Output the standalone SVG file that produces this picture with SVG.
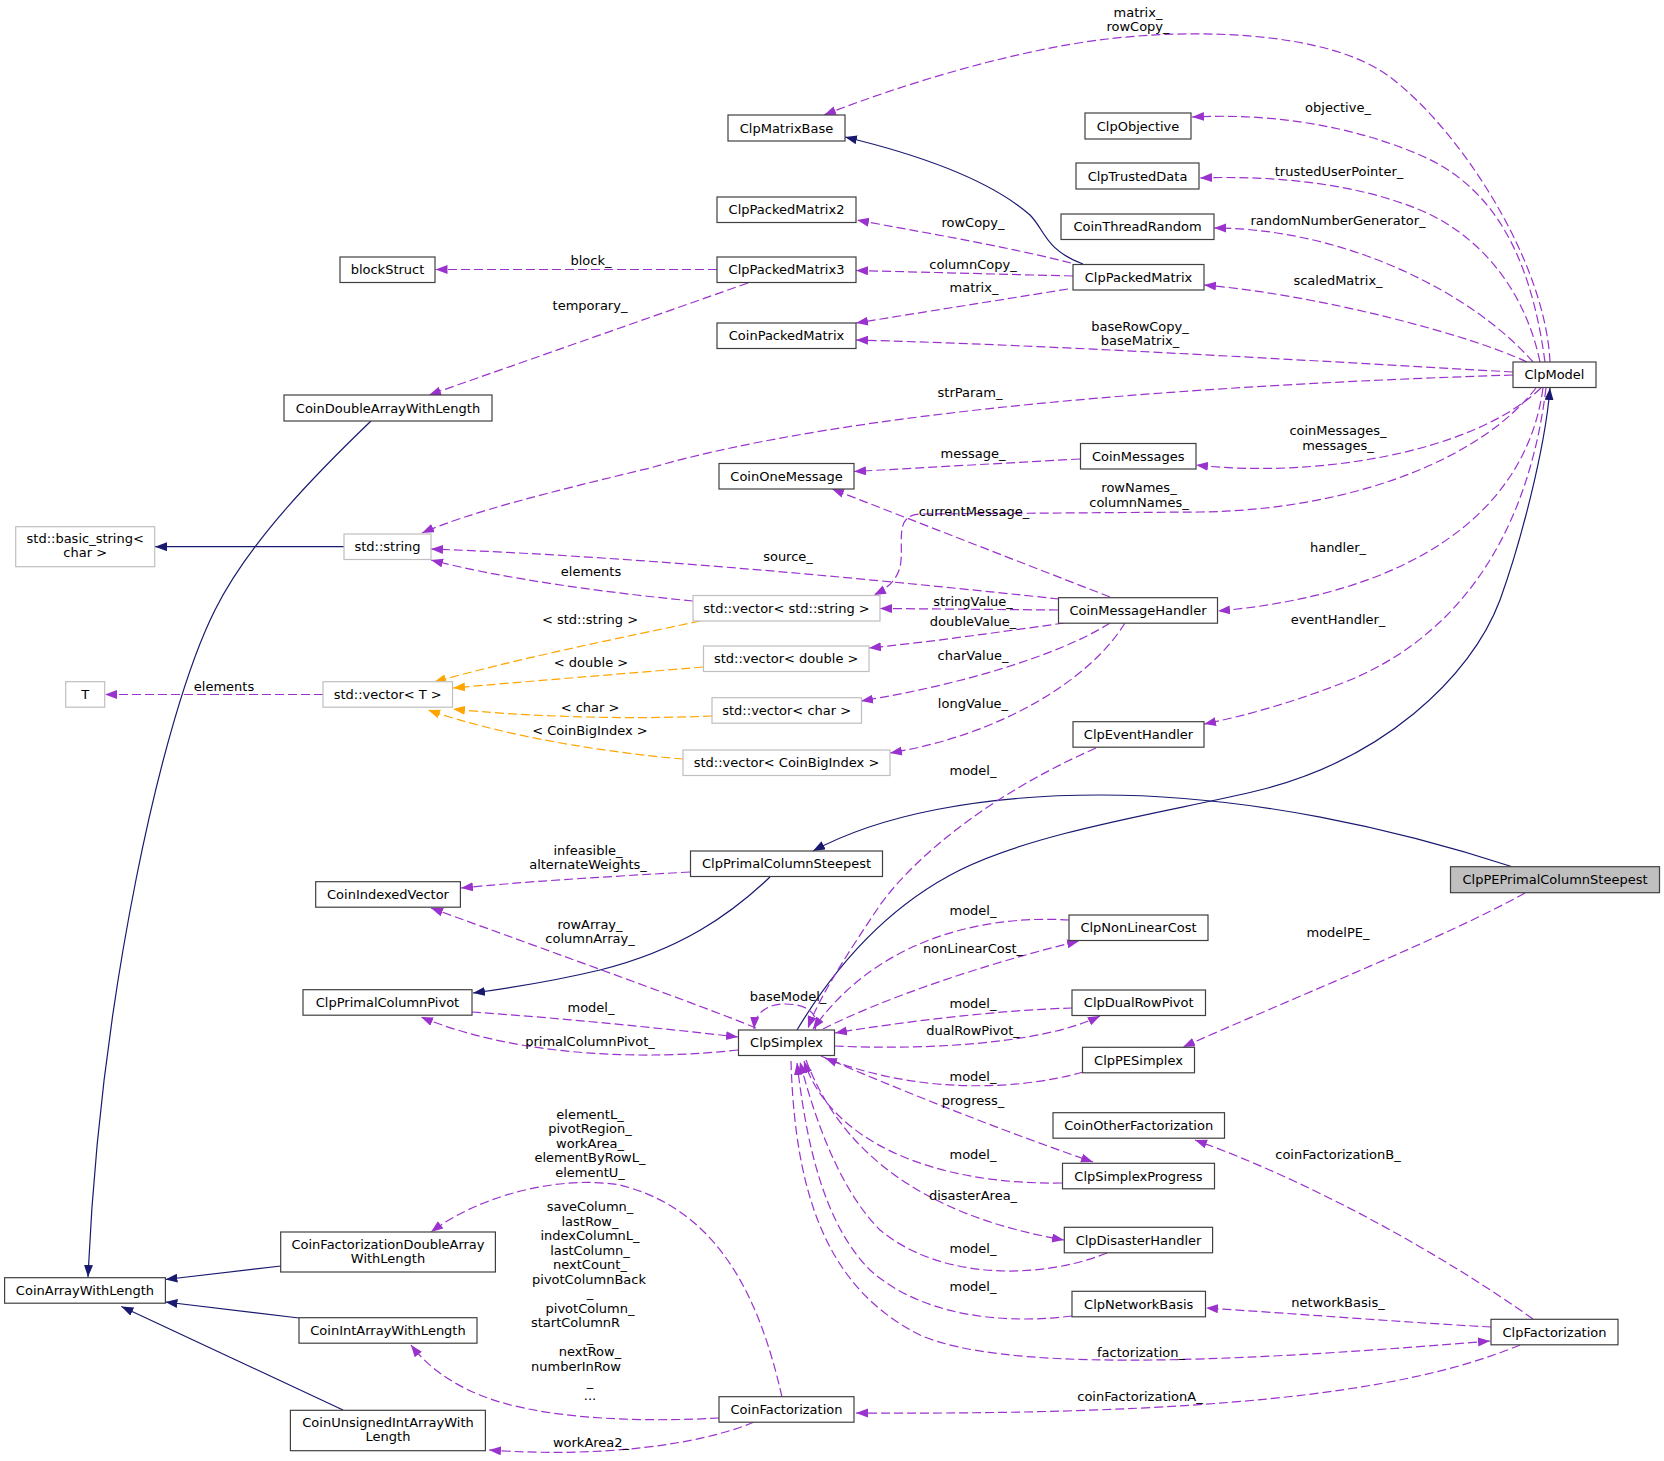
<svg xmlns="http://www.w3.org/2000/svg" width="1664" height="1461" viewBox="0 0 1664 1461">
<style>
text{font-family:"DejaVu Sans",sans-serif;font-size:13px;fill:#000;text-anchor:middle}
.n rect{fill:#fff;stroke:#404040;stroke-width:1.2}
.g rect{fill:#fff;stroke:#bfbfbf;stroke-width:1.2}
.hl rect{fill:#bfbfbf;stroke:#404040;stroke-width:1.2}
.p{fill:none;stroke:#9a32cd;stroke-width:1.2;stroke-dasharray:9,4;marker-end:url(#mp)}
.o{fill:none;stroke:#ffa500;stroke-width:1.2;stroke-dasharray:9,4;marker-end:url(#mo)}
.b{fill:none;stroke:#191970;stroke-width:1.2;marker-end:url(#mb)}
</style>
<defs>
<marker id="mp" markerUnits="userSpaceOnUse" markerWidth="13" markerHeight="10" refX="12" refY="4.5" orient="auto"><path d="M0,0 L12,4.5 L0,9 z" fill="#9a32cd"/></marker>
<marker id="mo" markerUnits="userSpaceOnUse" markerWidth="13" markerHeight="10" refX="12" refY="4.5" orient="auto"><path d="M0,0 L12,4.5 L0,9 z" fill="#ffa500"/></marker>
<marker id="mb" markerUnits="userSpaceOnUse" markerWidth="13" markerHeight="10" refX="12" refY="4.5" orient="auto"><path d="M0,0 L12,4.5 L0,9 z" fill="#191970"/></marker>
</defs>
<rect width="1664" height="1461" fill="#fff"/>
<g id="edges">
<g><path class="p" d="M1550,362 C1545,260 1460,130 1390,77 C1330,32 1200,28 1107,39 C1014,50 900,85 824,115"/><text x="1138" y="16.5">matrix_</text><text x="1138" y="31">rowCopy_</text></g>
<g><path class="p" d="M1545,362 C1530,250 1490,185 1420,155 C1350,125 1270,113 1192,117"/><text x="1338" y="112">objective_</text></g>
<g><path class="p" d="M1540,362 C1525,290 1480,235 1420,210 C1360,185 1280,175 1200,178"/><text x="1339" y="176">trustedUserPointer_</text></g>
<g><path class="p" d="M1533,362 C1470,290 1340,228 1214,228"/><text x="1338" y="225">randomNumberGenerator_</text></g>
<g><path class="p" d="M1527,362 C1470,335 1320,295 1204,285"/><text x="1338" y="285">scaledMatrix_</text></g>
<g><path class="p" d="M1513,372 C1300,360 1050,345 856,340"/><text x="1140" y="331">baseRowCopy_</text><text x="1140" y="345">baseMatrix_</text></g>
<g><path class="p" d="M1513,375 C1200,385 850,410 650,468 C550,492 470,512 422,533"/><text x="970" y="397">strParam_</text></g>
<g><path class="p" d="M1541,388 C1470,455 1310,478 1196,465"/><text x="1338" y="435">coinMessages_</text><text x="1338" y="449.5">messages_</text></g>
<g><path class="p" d="M1536,388 C1480,460 1350,510 1200,512 L920,514 C895,515 903,540 901,560 C900,578 888,588 874,595"/><text x="1139" y="492">rowNames_</text><text x="1139" y="506.5">columnNames_</text></g>
<g><path class="p" d="M1543,388 C1525,520 1400,595 1218,611"/><text x="1338" y="552">handler_</text></g>
<g><path class="p" d="M1546,388 C1530,520 1470,630 1350,680 C1300,700 1250,715 1204,724"/><text x="1338" y="624">eventHandler_</text></g>
<g><path class="b" d="M797,1030 C830,975 880,910 960,870 C1040,830 1180,810 1260,790 C1380,760 1470,680 1500,600 C1520,545 1545,450 1550,388"/></g>
<g><path class="b" d="M1513,867 C1400,830 1250,795 1100,795 C980,795 880,815 813,851"/></g>
<g><path class="p" d="M1525,893 C1450,935 1300,995 1183,1047"/><text x="1338" y="937">modelPE_</text></g>
<g><path class="b" d="M770,877 C730,915 680,950 600,970 C550,982 510,988 473,993"/></g>
<g><path class="p" d="M690,872 C600,877 520,882 461,888"/><text x="588" y="854.5">infeasible_</text><text x="588" y="869">alternateWeights_</text></g>
<g><path class="p" d="M756,1028 C700,1005 560,955 431,908"/><text x="590" y="929">rowArray_</text><text x="590" y="943">columnArray_</text></g>
<g><path class="p" d="M472,1012 C560,1018 660,1028 738,1037"/><text x="591" y="1011.5">model_</text></g>
<g><path class="p" d="M738,1050 C650,1060 520,1058 421,1017"/><text x="590" y="1045.5">primalColumnPivot_</text></g>
<g><path class="p" d="M815,1030 C820,1012 805,1004 785,1004 C768,1004 755,1012 754,1029"/><text x="788" y="1001">baseModel_</text></g>
<g><path class="p" d="M1069,920 C990,915 880,935 813,1029"/><text x="973" y="915">model_</text></g>
<g><path class="p" d="M823,1029 C880,1000 980,965 1079,941"/><text x="973" y="953">nonLinearCost_</text></g>
<g><path class="p" d="M1072,1008 C1000,1010 900,1022 835,1033"/><text x="973" y="1007.5">model_</text></g>
<g><path class="p" d="M835,1046 C920,1050 1040,1045 1100,1016"/><text x="973" y="1035">dualRowPivot_</text></g>
<g><path class="p" d="M1083,1072 C1020,1090 920,1095 825,1058"/><text x="973" y="1080.5">model_</text></g>
<g><path class="p" d="M821,1056 C900,1090 1000,1130 1093,1162"/><text x="973" y="1104.5">progress_</text></g>
<g><path class="p" d="M1062,1183 C930,1185 830,1140 804,1061"/><text x="973" y="1159">model_</text></g>
<g><path class="p" d="M806,1060 C840,1150 920,1215 1064,1240"/><text x="973" y="1200">disasterArea_</text></g>
<g><path class="p" d="M1107,1253 C1040,1280 940,1280 880,1230 C840,1190 815,1120 800,1062"/><text x="973" y="1253">model_</text></g>
<g><path class="p" d="M1072,1316 C1000,1325 920,1315 870,1270 C820,1220 805,1130 797,1063"/><text x="973" y="1290.5">model_</text></g>
<g><path class="p" d="M791,1061 C795,1200 830,1290 920,1335 C1000,1370 1200,1365 1490,1341"/><text x="1141" y="1357">factorization_</text></g>
<g><path class="p" d="M1491,1327 C1400,1322 1300,1314 1206,1308"/><text x="1338" y="1307">networkBasis_</text></g>
<g><path class="p" d="M1533,1319 C1450,1260 1320,1185 1195,1140"/><text x="1338" y="1159">coinFactorizationB_</text></g>
<g><path class="p" d="M1520,1345 C1400,1395 1200,1415 856,1413"/><text x="1140" y="1401">coinFactorizationA_</text></g>
<g><path class="p" d="M782,1397 C760,1300 720,1210 620,1185 C560,1175 480,1195 431,1232"/><text x="590" y="1118.8">elementL_</text><text x="590" y="1133.3">pivotRegion_</text><text x="590" y="1147.8">workArea_</text><text x="590" y="1162.3">elementByRowL_</text><text x="590" y="1176.8">elementU_</text></g>
<g><path class="p" d="M719,1418 C650,1422 560,1420 500,1402 C460,1390 430,1370 411,1345"/><text x="590" y="1211.2">saveColumn_</text><text x="590" y="1225.7">lastRow_</text><text x="590" y="1240.2">indexColumnL_</text><text x="590" y="1254.7">lastColumn_</text><text x="590" y="1269.2">nextCount_</text><text x="589" y="1283.7">pivotColumnBack</text><text x="590" y="1296.7">_</text><text x="590" y="1312.7">pivotColumn_</text><text x="531" y="1327.2" style="text-anchor:start">startColumnR</text><text x="590" y="1341.7">_</text><text x="590" y="1356.2">nextRow_</text><text x="531" y="1370.7" style="text-anchor:start">numberInRow</text><text x="590" y="1385.7">_</text><text x="590" y="1399.7">...</text></g>
<g><path class="p" d="M754,1422 C700,1445 600,1458 489,1450"/><text x="591" y="1447">workArea2_</text></g>
<g><path class="p" d="M1080,459 L854,471.5"/><text x="973" y="458">message_</text></g>
<g><path class="p" d="M1110,597 L832,489"/><text x="974" y="515.5">currentMessage_</text></g>
<g><path class="p" d="M1059,599 C900,582 650,557 431,549"/><text x="788" y="560.5">source_</text></g>
<g><path class="p" d="M693,601 C600,592 500,578 431,560"/><text x="591" y="576">elements</text></g>
<g><path class="p" d="M1058,610 L880,608.5"/><text x="973" y="605.5">stringValue_</text></g>
<g><path class="p" d="M1064,623 C1000,632 930,642 869,648"/><text x="973" y="625.5">doubleValue_</text></g>
<g><path class="p" d="M1110,623 C1060,655 960,685 861,701"/><text x="973" y="659.5">charValue_</text></g>
<g><path class="p" d="M1125,623 C1090,680 1000,735 890,753"/><text x="973" y="708">longValue_</text></g>
<g><path class="p" d="M1096,748 C1000,790 920,850 880,905 C850,950 820,995 808,1028"/><text x="973" y="775">model_</text></g>
<g><path class="o" d="M700,621 C620,638 520,658 434,682"/><text x="590" y="624">&lt; std::string &gt;</text></g>
<g><path class="o" d="M703,667 C620,674 520,682 453,688"/><text x="591" y="667">&lt; double &gt;</text></g>
<g><path class="o" d="M712,716 C620,720 520,716 453,709"/><text x="590" y="712">&lt; char &gt;</text></g>
<g><path class="o" d="M683,759 C600,752 500,735 428,710"/><text x="590" y="735">&lt; CoinBigIndex &gt;</text></g>
<g><path class="p" d="M323,694.5 L105,694.5"/><text x="224" y="691">elements</text></g>
<g><path class="b" d="M344,546.7 L155,546.7"/></g>
<g><path class="p" d="M717,269.5 L435.5,269.5"/><text x="591" y="264.5">block_</text></g>
<g><path class="p" d="M748,283 L429,395"/><text x="590" y="309.5">temporary_</text></g>
<g><path class="p" d="M1071,263 C1000,245 920,232 857,220"/><text x="973" y="227">rowCopy_</text></g>
<g><path class="p" d="M1073,276 L856,270.5"/><text x="973" y="268.5">columnCopy_</text></g>
<g><path class="p" d="M1068,289 L856,323"/><text x="974" y="292">matrix_</text></g>
<g><path class="b" d="M1083,264 C1045,250 1045,230 1030,215 C990,180 920,155 845,137"/></g>
<g><path class="b" d="M371,421 C320,470 250,540 215,610 C162,715 100,1000 88,1277"/></g>
<g><path class="b" d="M281,1266 L165.4,1279.5"/></g>
<g><path class="b" d="M299,1318 L165.4,1302"/></g>
<g><path class="b" d="M343,1410 L121.4,1306.5"/></g>
</g>
<g id="node-ClpMatrixBase" class="n"><rect x="728" y="115" width="117" height="26"/><text x="786.5" y="132.5">ClpMatrixBase</text></g>
<g id="node-ClpObjective" class="n"><rect x="1085" y="113" width="106" height="26"/><text x="1138" y="130.5">ClpObjective</text></g>
<g id="node-ClpTrustedData" class="n"><rect x="1076" y="163" width="123" height="26"/><text x="1137.5" y="180.5">ClpTrustedData</text></g>
<g id="node-CoinThreadRandom" class="n"><rect x="1061" y="214" width="153" height="25.5"/><text x="1137.5" y="231.2">CoinThreadRandom</text></g>
<g id="node-ClpPackedMatrix2" class="n"><rect x="717" y="197" width="139" height="25.5"/><text x="786.5" y="214.2">ClpPackedMatrix2</text></g>
<g id="node-ClpPackedMatrix3" class="n"><rect x="717" y="257" width="139" height="25.5"/><text x="786.5" y="274.2">ClpPackedMatrix3</text></g>
<g id="node-CoinPackedMatrix" class="n"><rect x="717" y="323" width="139" height="25.5"/><text x="786.5" y="340.2">CoinPackedMatrix</text></g>
<g id="node-blockStruct" class="n"><rect x="340" y="257" width="95" height="25.5"/><text x="387.5" y="274.2">blockStruct</text></g>
<g id="node-CoinDoubleArrayWithLength" class="n"><rect x="284" y="395" width="208" height="26"/><text x="388" y="412.5">CoinDoubleArrayWithLength</text></g>
<g id="node-ClpPackedMatrix" class="n"><rect x="1073" y="264.5" width="131" height="25.5"/><text x="1138.5" y="281.7">ClpPackedMatrix</text></g>
<g id="node-ClpModel" class="n"><rect x="1513" y="362" width="83" height="25.5"/><text x="1554.5" y="379.2">ClpModel</text></g>
<g id="node-CoinMessages" class="n"><rect x="1080.5" y="443.5" width="115.5" height="25.5"/><text x="1138.2" y="460.7">CoinMessages</text></g>
<g id="node-CoinOneMessage" class="n"><rect x="719" y="463.5" width="135" height="25.5"/><text x="786.5" y="480.7">CoinOneMessage</text></g>
<g id="node-std-basic_string" class="g"><rect x="15.7" y="526.7" width="139" height="40"/><text x="85.2" y="542.8">std::basic_string&lt;</text><text x="85.2" y="556.8">char &gt;</text></g>
<g id="node-std-string" class="g"><rect x="344" y="534" width="87" height="25.5"/><text x="387.5" y="551.2">std::string</text></g>
<g id="node-std-vector-string" class="g"><rect x="693" y="595.5" width="187" height="25.5"/><text x="786.5" y="612.7">std::vector&lt; std::string &gt;</text></g>
<g id="node-CoinMessageHandler" class="n"><rect x="1058.5" y="597.7" width="159" height="25.5"/><text x="1138" y="615">CoinMessageHandler</text></g>
<g id="node-std-vector-double" class="g"><rect x="703.5" y="646" width="165.5" height="25.5"/><text x="786.2" y="663.2">std::vector&lt; double &gt;</text></g>
<g id="node-std-vector-char" class="g"><rect x="712" y="697.7" width="149.5" height="25.5"/><text x="786.7" y="715">std::vector&lt; char &gt;</text></g>
<g id="node-std-vector-CoinBigIndex" class="g"><rect x="683" y="750" width="207" height="25.5"/><text x="786.5" y="767.2">std::vector&lt; CoinBigIndex &gt;</text></g>
<g id="node-T" class="g"><rect x="65.7" y="681.7" width="39" height="25.5"/><text x="85.2" y="699">T</text></g>
<g id="node-std-vector-T" class="g"><rect x="323" y="681.7" width="129.5" height="25.5"/><text x="387.7" y="699">std::vector&lt; T &gt;</text></g>
<g id="node-ClpEventHandler" class="n"><rect x="1073" y="721.7" width="131" height="25.5"/><text x="1138.5" y="739">ClpEventHandler</text></g>
<g id="node-ClpPrimalColumnSteepest" class="n"><rect x="690.5" y="851" width="192" height="25.5"/><text x="786.5" y="868.2">ClpPrimalColumnSteepest</text></g>
<g id="node-ClpPEPrimalColumnSteepest" class="hl"><rect x="1450.5" y="866.7" width="209" height="26"/><text x="1555" y="884.2">ClpPEPrimalColumnSteepest</text></g>
<g id="node-CoinIndexedVector" class="n"><rect x="315.7" y="881.7" width="144.7" height="25.5"/><text x="388" y="899">CoinIndexedVector</text></g>
<g id="node-ClpNonLinearCost" class="n"><rect x="1069" y="915" width="139" height="25.5"/><text x="1138.5" y="932.2">ClpNonLinearCost</text></g>
<g id="node-ClpPrimalColumnPivot" class="n"><rect x="303" y="989.7" width="169" height="25.5"/><text x="387.5" y="1007">ClpPrimalColumnPivot</text></g>
<g id="node-ClpDualRowPivot" class="n"><rect x="1072" y="990" width="133.5" height="25.5"/><text x="1138.7" y="1007.2">ClpDualRowPivot</text></g>
<g id="node-ClpSimplex" class="n"><rect x="738.5" y="1030" width="96" height="25.5"/><text x="786.5" y="1047.2">ClpSimplex</text></g>
<g id="node-ClpPESimplex" class="n"><rect x="1082.5" y="1047.3" width="112" height="25.5"/><text x="1138.5" y="1064.5">ClpPESimplex</text></g>
<g id="node-CoinOtherFactorization" class="n"><rect x="1053" y="1112.7" width="171.5" height="25.5"/><text x="1138.7" y="1130">CoinOtherFactorization</text></g>
<g id="node-ClpSimplexProgress" class="n"><rect x="1062.5" y="1163.3" width="152" height="25.5"/><text x="1138.5" y="1180.5">ClpSimplexProgress</text></g>
<g id="node-ClpDisasterHandler" class="n"><rect x="1064.3" y="1227.3" width="148.3" height="25.5"/><text x="1138.5" y="1244.5">ClpDisasterHandler</text></g>
<g id="node-CoinFactorizationDoubleArrayWithLength" class="n"><rect x="280.7" y="1232" width="214.7" height="40"/><text x="388" y="1248.5">CoinFactorizationDoubleArray</text><text x="388" y="1262.8">WithLength</text></g>
<g id="node-CoinArrayWithLength" class="n"><rect x="4.6" y="1277.7" width="160.8" height="25.5"/><text x="85" y="1295">CoinArrayWithLength</text></g>
<g id="node-ClpNetworkBasis" class="n"><rect x="1072" y="1291.3" width="133.5" height="25.5"/><text x="1138.7" y="1308.5">ClpNetworkBasis</text></g>
<g id="node-ClpFactorization" class="n"><rect x="1491" y="1319.3" width="127" height="25.5"/><text x="1554.5" y="1336.5">ClpFactorization</text></g>
<g id="node-CoinIntArrayWithLength" class="n"><rect x="299" y="1317.7" width="178" height="25.5"/><text x="388" y="1335">CoinIntArrayWithLength</text></g>
<g id="node-CoinFactorization" class="n"><rect x="719" y="1396.7" width="135" height="25.5"/><text x="786.5" y="1414">CoinFactorization</text></g>
<g id="node-CoinUnsignedIntArrayWithLength" class="n"><rect x="290.4" y="1410.3" width="195" height="40.4"/><text x="388" y="1426.8">CoinUnsignedIntArrayWith</text><text x="388" y="1441.2">Length</text></g>
</svg>
